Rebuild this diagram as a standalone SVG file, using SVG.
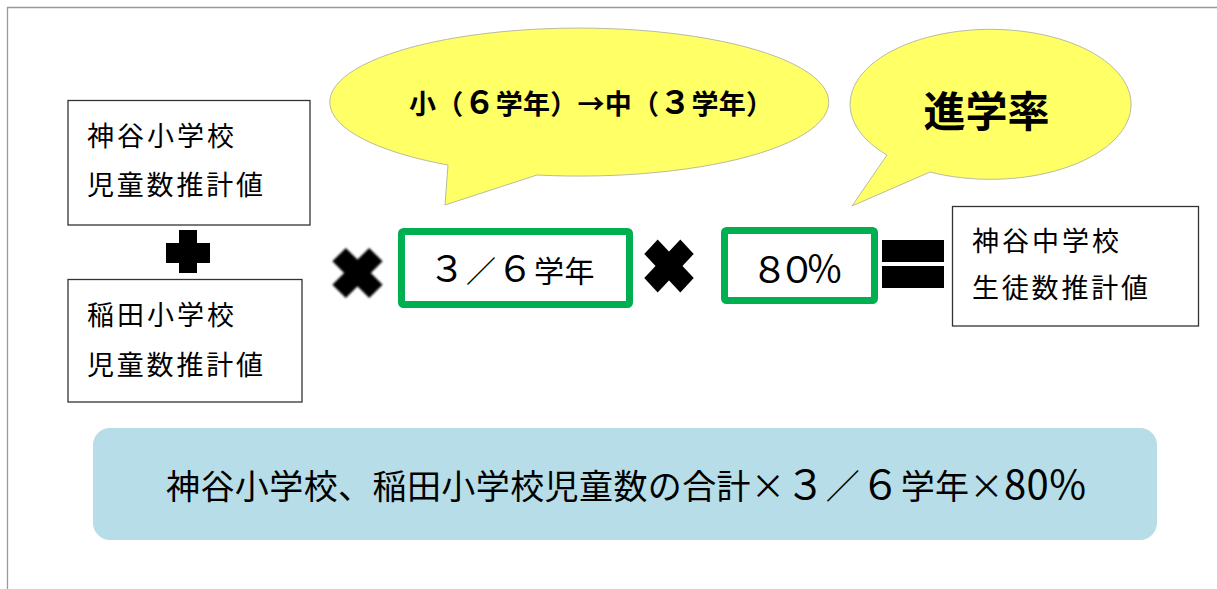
<svg xmlns="http://www.w3.org/2000/svg" width="1217" height="589" viewBox="0 0 1217 589">
<style>
.t{font-family:"Noto Sans CJK JP","Noto Sans",sans-serif;fill:#000}
.box{fill:#fff;stroke:#333;stroke-width:1.3}
.bub{fill:#FFFF66;stroke:#BBBBA0;stroke-width:1}
.grn{fill:#fff;stroke:#00B050;stroke-width:7}
.blk{fill:#000}
</style>
<defs>
<filter id="soft" x="-20%" y="-20%" width="140%" height="140%"><feGaussianBlur stdDeviation="0.9"/></filter>
</defs>
<rect width="1217" height="589" fill="#fff"/>
<g id="frame" stroke="#999" stroke-width="1.3" fill="none">
<line x1="7" y1="7.5" x2="1217" y2="7.5"/>
<line x1="7.5" y1="7" x2="7.5" y2="589"/>
</g>
<g id="bubble-grades">
<path class="bub" d="M448,165 A249.5,74 0 1 1 537,175 L445,205 Z"/>
<text class="t" x="591" y="114" font-size="27" font-weight="bold" text-anchor="middle" textLength="364" lengthAdjust="spacing">小（<tspan font-size="32">６</tspan>学年）→中（<tspan font-size="32">３</tspan>学年）</text>
</g>
<g id="bubble-rate">
<path class="bub" d="M887,155 A140.5,75 0 1 1 930,172 L852,206 Z"/>
<text class="t" x="986.5" y="127" font-size="42" font-weight="bold" text-anchor="middle">進学率</text>
</g>
<g id="node-kamiya-elem">
<rect class="box" x="68" y="100.5" width="242" height="124.5"/>
<text class="t" x="87" y="146" font-size="27" textLength="147" lengthAdjust="spacing">神谷小学校</text>
<text class="t" x="87" y="195" font-size="27" textLength="176" lengthAdjust="spacing">児童数推計値</text>
</g>
<g id="node-inada-elem">
<rect class="box" x="68" y="279.5" width="234" height="122.5"/>
<text class="t" x="87" y="325" font-size="27" textLength="147" lengthAdjust="spacing">稲田小学校</text>
<text class="t" x="87" y="375" font-size="27" textLength="176" lengthAdjust="spacing">児童数推計値</text>
</g>
<g id="node-grade-ratio">
<rect class="grn" x="401.5" y="231.5" width="228" height="73" rx="2"/>
<text class="t" x="511.5" y="282" font-size="30" text-anchor="middle" textLength="166" lengthAdjust="spacing"><tspan font-size="37">３</tspan>／<tspan font-size="37">６</tspan>学年</text>
</g>
<g id="node-rate">
<rect class="grn" x="724.5" y="230.5" width="150" height="70" rx="2"/>
<text class="t" x="797" y="283" font-size="37" text-anchor="middle" textLength="92" lengthAdjust="spacing">８０％</text>
</g>
<g id="node-kamiya-junior">
<rect class="box" x="952.5" y="206.5" width="246" height="119.5"/>
<text class="t" x="972" y="251" font-size="27" textLength="147" lengthAdjust="spacing">神谷中学校</text>
<text class="t" x="972" y="298" font-size="27" textLength="176" lengthAdjust="spacing">生徒数推計値</text>
</g>
<g id="operators">
<g id="op-plus" class="blk">
<rect x="179" y="230" width="18" height="43"/>
<rect x="166" y="243" width="44" height="20"/>
</g>
<g id="op-times-1" class="blk" filter="url(#soft)" transform="translate(357.5,273)">
<rect x="-26" y="-9.5" width="52" height="19" transform="rotate(45)"/>
<rect x="-26" y="-9.5" width="52" height="19" transform="rotate(-45)"/>
</g>
<g id="op-times-2" class="blk" transform="translate(669,266) scale(1,1.07)">
<rect x="-25.5" y="-9.5" width="51" height="19" transform="rotate(45)"/>
<rect x="-25.5" y="-9.5" width="51" height="19" transform="rotate(-45)"/>
</g>
<g id="op-equals" class="blk">
<rect x="882" y="240" width="62" height="22"/>
<rect x="882" y="266" width="62" height="22"/>
</g>
</g>
<g id="node-formula">
<rect x="93" y="428" width="1064" height="112" rx="17" fill="#B7DDE8"/>
<text class="t" x="166" y="499" font-size="34" textLength="920" lengthAdjust="spacing">神谷小学校、稲田小学校児童数の合計×<tspan font-size="40">３</tspan>／<tspan font-size="40">６</tspan>学年×<tspan font-size="40">80%</tspan></text>
</g>
</svg>
